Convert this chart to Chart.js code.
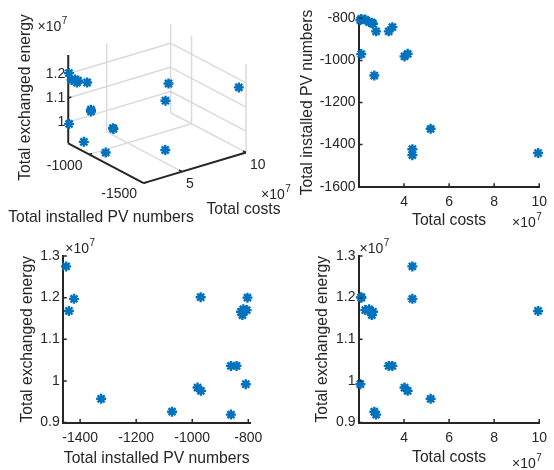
<!DOCTYPE html>
<html>
<head>
<meta charset="utf-8">
<script src="https://cdn.jsdelivr.net/npm/chart.js@4.4.1/dist/chart.umd.min.js"></script>
<style>
  html, body { margin: 0; padding: 0; background: #fff; }
  #fig { position: relative; width: 554px; height: 470px; overflow: hidden; }
  #fig canvas { position: absolute; }
</style>
</head>
<body>
<div id="fig">
  <canvas id="ax3d" width="300" height="235" style="left:0;top:0"></canvas>
  <canvas id="axCostPv" width="277" height="235" style="left:277px;top:0"></canvas>
  <canvas id="axPvEnergy" width="277" height="235" style="left:0;top:235px"></canvas>
  <canvas id="axCostEnergy" width="277" height="235" style="left:277px;top:235px"></canvas>
</div>
<script>
// one entry per solution
const totalCosts = [9.95e7, 4.37e7, 4.37e7, 5.18e7, 2.68e7, 4.02e7, 4.16e7, 2.10e7, 3.32e7,
                    3.48e7, 2.76e7, 2.10e7, 2.06e7, 2.28e7, 2.45e7, 2.57e7, 2.62e7];
const pvNumbers = [-1440, -1450, -1422, -1325, -1072, -981, -969, -970, -862,
                   -842, -862, -803, -809, -806, -818, -821, -826];
const exchangedEnergy = [1.168e7, 1.275e7, 1.197e7, 0.957e7, 0.926e7, 0.984e7, 0.976e7, 1.201e7, 1.036e7,
                         1.036e7, 0.919e7, 1.200e7, 0.992e7, 1.170e7, 1.172e7, 1.158e7, 1.166e7];

// tick values
const costTicks = [4e7, 6e7, 8e7, 10e7];
const pvTicksY = [-1600, -1400, -1200, -1000, -800];
const pvTicksX = [-1400, -1200, -1000, -800];
const energyTicks = [0.9e7, 1.0e7, 1.1e7, 1.2e7, 1.3e7];
const costTicks3d = [5e7, 10e7];
const pvTicks3d = [-1500, -1000];
const energyTicks3d = [1.0e7, 1.1e7, 1.2e7];

const FONT = '"Liberation Sans", Arial, sans-serif';
const INK = '#262626';
const BLUE = '#0072BD';
const TITLE_SIZE = 15.7;
const TITLE_LH = TITLE_SIZE * 1.2;

const fmtE7 = v => String(+(v / 1e7).toFixed(2));
const fmtInt = v => String(v);

const marker = {
  showLine: false,
  pointStyle: 'star',
  pointRadius: 5,
  pointBorderWidth: 2.4,
  pointBorderColor: BLUE,
  pointBackgroundColor: BLUE,
  clip: false
};

function drawExponent(ctx, x, y) {
  ctx.save();
  ctx.fillStyle = INK;
  ctx.textAlign = 'left';
  ctx.textBaseline = 'middle';
  ctx.font = '14px ' + FONT;
  ctx.fillText('\u00d710', x, y);
  const w = ctx.measureText('\u00d710').width;
  ctx.font = '10px ' + FONT;
  ctx.fillText('7', x + w + 0.5, y - 6);
  ctx.restore();
}

// MATLAB style ticks point into the axes
const innerTicks = {
  id: 'innerTicks',
  afterDraw(chart) {
    const {ctx, chartArea: a, scales: {x, y}} = chart;
    ctx.save();
    ctx.strokeStyle = INK;
    ctx.lineWidth = 1.5;
    ctx.beginPath();
    x.ticks.forEach(t => {
      const px = x.getPixelForValue(t.value);
      ctx.moveTo(px, a.bottom);
      ctx.lineTo(px, a.bottom - 3.5);
    });
    y.ticks.forEach(t => {
      const py = y.getPixelForValue(t.value);
      ctx.moveTo(a.left, py);
      ctx.lineTo(a.left + 3.5, py);
    });
    ctx.stroke();
    ctx.restore();
    (chart.options.plugins.innerTicks.exponents || []).forEach(e => drawExponent(ctx, e[0], e[1]));
  }
};

function axisOptions(a, dir, size, H) {
  const horizontal = dir === 'x';
  return {
    type: 'linear',
    position: horizontal ? 'bottom' : 'left',
    min: a.min,
    max: a.max,
    afterBuildTicks: s => { s.ticks = a.ticks.map(v => ({value: v})); },
    afterFit: s => { if (horizontal) s.height = size; else s.width = size; },
    grid: {display: false, drawTicks: false},
    border: {display: true, color: INK, width: 2},
    ticks: {
      color: INK,
      font: {family: FONT, size: 14},
      padding: horizontal ? 7 : 3.5,
      autoSkip: false,
      maxRotation: 0,
      minRotation: 0,
      callback: a.format
    },
    title: {
      display: true,
      text: a.title,
      color: INK,
      font: {family: FONT, size: TITLE_SIZE, lineHeight: 1.2},
      padding: horizontal
        ? {top: 0, bottom: H - a.titleAt - TITLE_LH / 2}
        : {top: a.titleAt - TITLE_LH / 2, bottom: 0}
    }
  };
}

function scatter2D(id, xs, ys, cfg) {
  const canvas = document.getElementById(id);
  const W = canvas.width, H = canvas.height;
  const area = cfg.area;
  return new Chart(canvas, {
    type: 'scatter',
    data: {datasets: [Object.assign({data: xs.map((v, i) => ({x: v, y: ys[i]}))}, marker)]},
    options: {
      responsive: false,
      animation: false,
      events: [],
      devicePixelRatio: 1,
      layout: {padding: {left: 0, top: area.top, right: W - area.right, bottom: 0}},
      plugins: {
        legend: {display: false},
        tooltip: {enabled: false},
        innerTicks: {exponents: cfg.exponents}
      },
      scales: {
        x: axisOptions(cfg.x, 'x', H - area.bottom, H),
        y: axisOptions(cfg.y, 'y', area.left, H)
      }
    },
    plugins: [innerTicks]
  });
}

scatter2D('axCostPv', totalCosts, pvNumbers, {
  area: {left: 82, right: 267, top: 18.3, bottom: 186.7},
  x: {min: 2e7, max: 10e7, ticks: costTicks, format: fmtE7, title: 'Total costs', titleAt: 221},
  y: {min: -1600, max: -800, ticks: pvTicksY, format: fmtInt, title: 'Total installed PV numbers', titleAt: 30.6},
  exponents: [[235, 223.5]]
});

scatter2D('axPvEnergy', pvNumbers, exchangedEnergy, {
  area: {left: 63.3, right: 250, top: 21, bottom: 187.5},
  x: {min: -1460, max: -794, ticks: pvTicksX, format: fmtInt, title: 'Total installed PV numbers', titleAt: 223.3},
  y: {min: 0.9e7, max: 1.3e7, ticks: energyTicks, format: fmtE7, title: 'Total exchanged energy', titleAt: 27.3},
  exponents: [[65.2, 14]]
});

scatter2D('axCostEnergy', totalCosts, exchangedEnergy, {
  area: {left: 82, right: 267, top: 21, bottom: 187.5},
  x: {min: 2e7, max: 10e7, ticks: costTicks, format: fmtE7, title: 'Total costs', titleAt: 223},
  y: {min: 0.9e7, max: 1.3e7, ticks: energyTicks, format: fmtE7, title: 'Total exchanged energy', titleAt: 45.6},
  exponents: [[235, 229], [82.5, 14]]
});

// 3-D view: axis limits and the screen directions of the three box edges
const view = {
  cost: [2.0e7, 10e7],
  pv: [-1500, -808],
  energy: [0.912e7, 1.278e7],
  origin: [143.3, 187.5],
  dCost: [107.7, -32.7],
  dPv: [-79.3, -42.4],
  dEnergy: [0, -94.3]
};

function project(c, p, e) {
  const fc = (c - view.cost[0]) / (view.cost[1] - view.cost[0]);
  const fp = (p - view.pv[0]) / (view.pv[1] - view.pv[0]);
  const fe = (e - view.energy[0]) / (view.energy[1] - view.energy[0]);
  return {
    x: view.origin[0] + fc * view.dCost[0] + fp * view.dPv[0] + fe * view.dEnergy[0],
    y: view.origin[1] + fc * view.dCost[1] + fp * view.dPv[1] + fe * view.dEnergy[1]
  };
}

const box3d = {
  id: 'box3d',
  beforeDatasetsDraw(chart) {
    const {ctx, scales: {x, y}} = chart;
    const [c0, c1] = view.cost, [p0, p1] = view.pv, [e0, e1] = view.energy;
    const seg = (a, b) => {
      const s = project(...a), t = project(...b);
      ctx.moveTo(x.getPixelForValue(s.x), y.getPixelForValue(s.y));
      ctx.lineTo(x.getPixelForValue(t.x), y.getPixelForValue(t.y));
    };
    ctx.save();
    ctx.strokeStyle = 'rgba(38,38,38,0.17)';
    ctx.lineWidth = 1.5;
    ctx.beginPath();
    costTicks3d.forEach(c => { seg([c, p1, e0], [c, p1, e1]); seg([c, p0, e0], [c, p1, e0]); });
    pvTicks3d.forEach(p => { seg([c1, p, e0], [c1, p, e1]); seg([c0, p, e0], [c1, p, e0]); });
    energyTicks3d.forEach(e => { seg([c0, p1, e], [c1, p1, e]); seg([c1, p0, e], [c1, p1, e]); });
    ctx.stroke();

    ctx.strokeStyle = INK;
    ctx.lineWidth = 2;
    ctx.beginPath();
    seg([c0, p1, e0], [c0, p1, e1]);
    seg([c0, p1, e0], [c0, p0, e0]);
    seg([c0, p0, e0], [c1, p0, e0]);
    ctx.stroke();

    const dc = (c1 - c0) * 0.03, dp = (p1 - p0) * 0.04;
    ctx.lineWidth = 1.5;
    ctx.beginPath();
    energyTicks3d.forEach(e => seg([c0, p1, e], [c0 + dc, p1, e]));
    pvTicks3d.forEach(p => seg([c0, p, e0], [c0 + dc, p, e0]));
    costTicks3d.forEach(c => seg([c, p0, e0], [c, p0 + dp, e0]));
    ctx.stroke();
    ctx.restore();
  },
  afterDraw(chart) {
    const {ctx, scales: {x, y}} = chart;
    const [c0] = view.cost, [p0, p1] = view.pv, [e0] = view.energy;
    const at = (c, p, e) => {
      const s = project(c, p, e);
      return [x.getPixelForValue(s.x), y.getPixelForValue(s.y)];
    };
    ctx.save();
    ctx.fillStyle = INK;
    ctx.textBaseline = 'middle';
    ctx.font = '14px ' + FONT;

    ctx.textAlign = 'right';
    energyTicks3d.forEach(e => {
      const [px, py] = at(c0, p1, e);
      ctx.fillText(fmtE7(e), px - 3, py);
    });
    pvTicks3d.forEach(p => {
      const [px, py] = at(c0, p, e0);
      ctx.fillText(fmtInt(p), px - 6.5, py + 11.5);
    });
    ctx.textAlign = 'left';
    costTicks3d.forEach(c => {
      const [px, py] = at(c, p0, e0);
      ctx.fillText(fmtE7(c), px + 4, py + 12.7);
    });

    ctx.font = TITLE_SIZE + 'px ' + FONT;
    ctx.textAlign = 'center';
    ctx.fillText('Total installed PV numbers', 101, 217.5);
    ctx.fillText('Total costs', 243.5, 209.5);
    ctx.save();
    ctx.translate(25.8, 97.5);
    ctx.rotate(-Math.PI / 2);
    ctx.fillText('Total exchanged energy', 0, 0);
    ctx.restore();
    ctx.restore();

    drawExponent(ctx, 37.5, 27);
    drawExponent(ctx, 261, 195);
  }
};

new Chart(document.getElementById('ax3d'), {
  type: 'scatter',
  data: {
    datasets: [Object.assign({
      data: totalCosts.map((c, i) => project(c, pvNumbers[i], exchangedEnergy[i]))
    }, marker)]
  },
  options: {
    responsive: false,
    animation: false,
    events: [],
    devicePixelRatio: 1,
    layout: {padding: 0},
    plugins: {legend: {display: false}, tooltip: {enabled: false}},
    scales: {
      x: {type: 'linear', display: false, min: 0, max: 300},
      y: {type: 'linear', display: false, min: 0, max: 235, reverse: true}
    }
  },
  plugins: [box3d]
});
</script>
</body>
</html>
